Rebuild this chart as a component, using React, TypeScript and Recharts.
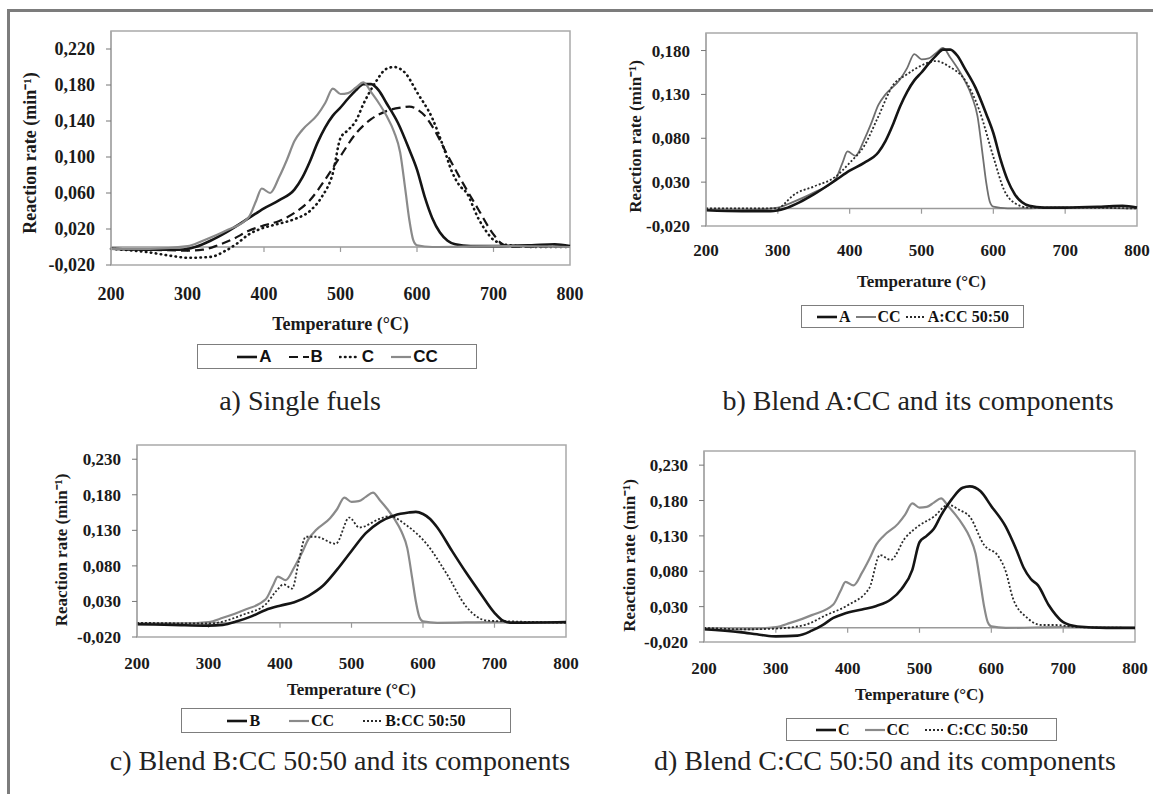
import React from 'react';
import { LineChart, Line, XAxis, YAxis, ReferenceLine, ReferenceArea } from 'recharts';

// ---------- data ----------
const temperatureTicks = [200, 300, 400, 500, 600, 700, 800];
const zeroLineTicks = [300, 400, 500, 600, 700];
const yTicksA = [-0.02, 0.02, 0.06, 0.1, 0.14, 0.18, 0.22];
const yTicksB = [-0.02, 0.03, 0.08, 0.13, 0.18];
const yTicksCD = [-0.02, 0.03, 0.08, 0.13, 0.18, 0.23];

const tA = [200, 250, 290, 310, 330, 350, 380, 400, 420, 440, 450, 460, 470, 480, 490, 500, 510, 520, 530, 540, 550, 560, 575, 590, 600, 610, 620, 630, 640, 650, 670, 700, 750, 780, 800];
const vA = [-0.002, -0.003, -0.003, 0.0, 0.007, 0.016, 0.032, 0.043, 0.052, 0.064, 0.077, 0.095, 0.116, 0.133, 0.146, 0.155, 0.165, 0.174, 0.181, 0.181, 0.174, 0.16, 0.138, 0.108, 0.086, 0.056, 0.032, 0.016, 0.007, 0.003, 0.001, 0.001, 0.002, 0.003, 0.001];

const tB = [200, 250, 300, 320, 340, 360, 380, 400, 420, 440, 460, 480, 500, 520, 540, 560, 580, 590, 600, 610, 620, 640, 660, 680, 700, 712, 725, 800];
const vB = [-0.002, -0.003, -0.004, -0.003, 0.002, 0.009, 0.018, 0.024, 0.029, 0.038, 0.052, 0.075, 0.101, 0.126, 0.142, 0.151, 0.155, 0.156, 0.153, 0.146, 0.134, 0.102, 0.071, 0.042, 0.014, 0.003, 0.0, 0.001];

const tC = [200, 250, 280, 300, 330, 350, 365, 380, 395, 420, 440, 460, 475, 490, 500, 510, 520, 530, 545, 560, 570, 585, 600, 620, 635, 645, 655, 665, 680, 690, 700, 720, 760, 800];
const vC = [-0.002, -0.006, -0.01, -0.012, -0.011, -0.004, 0.004, 0.014, 0.02, 0.026, 0.031, 0.04, 0.055, 0.082, 0.121, 0.13, 0.14, 0.159, 0.182, 0.198, 0.2, 0.193, 0.172, 0.143, 0.11, 0.085, 0.069, 0.06, 0.032, 0.018, 0.008, 0.002, 0.0, 0.0];

const tCC = [200, 250, 300, 320, 350, 380, 390, 397, 408, 420, 430, 440, 450, 470, 480, 490, 500, 510, 520, 530, 540, 550, 560, 570, 578, 585, 590, 595, 600, 620, 700, 800];
const vCC = [-0.002, -0.002, 0.001, 0.007, 0.018, 0.033, 0.052, 0.065, 0.06, 0.078, 0.097, 0.118, 0.13, 0.147, 0.16, 0.176, 0.17, 0.171, 0.177, 0.183, 0.172, 0.16, 0.146, 0.128, 0.105, 0.062, 0.03, 0.008, 0.002, 0.0, 0.001, 0.0];

const tACC = [200, 300, 310, 320, 350, 380, 400, 420, 440, 460, 480, 500, 520, 540, 560, 580, 600, 615, 630, 650, 700, 800];
const vACC = [0.0, 0.0, 0.006, 0.014, 0.025, 0.036, 0.052, 0.071, 0.105, 0.14, 0.153, 0.163, 0.168, 0.161, 0.147, 0.113, 0.059, 0.021, 0.006, 0.001, 0.001, 0.0];

const tBCC = [200, 300, 350, 380, 395, 405, 417, 426, 436, 450, 478, 497, 511, 539, 553, 577, 605, 633, 661, 690, 720, 800];
const vBCC = [0.0, -0.001, 0.012, 0.026, 0.045, 0.054, 0.048, 0.085, 0.121, 0.121, 0.111, 0.148, 0.134, 0.146, 0.15, 0.137, 0.111, 0.069, 0.022, 0.003, 0.002, 0.0];

const tCCC = [200, 260, 300, 340, 370, 400, 430, 445, 460, 480, 500, 520, 540, 555, 570, 590, 610, 620, 630, 650, 670, 690, 720, 800];
const vCCC = [0.0, -0.002, -0.001, 0.004, 0.018, 0.032, 0.056, 0.103, 0.096, 0.127, 0.145, 0.157, 0.174, 0.167, 0.157, 0.117, 0.101, 0.08, 0.042, 0.014, 0.004, 0.004, 0.001, 0.0];

// ---------- helpers ----------
const toPoints = (t: number[], v: number[]) => t.map((x, i) => ({ t: x, v: v[i] }));
const fmt = (v: number) => v.toFixed(3).replace('.', ',');

const SERIF = "'Liberation Serif', 'Times New Roman', serif";
const SANS = "'Liberation Sans', Arial, sans-serif";
const GRAY = '#8a8a8a';
const BLACK = '#151515';
const FRAME = '#a9a9a9';

type Style = { stroke: string; width: number; dash?: string; cap?: 'round' | 'butt' };
const sSolid: Style = { stroke: BLACK, width: 2.6 };
const sDash: Style = { stroke: BLACK, width: 2.2, dash: '9 5' };
const sDot: Style = { stroke: BLACK, width: 2.6, dash: '0.5 4.5', cap: 'round' };
const sGray: Style = { stroke: GRAY, width: 2.2 };
const sBlend: Style = { stroke: '#2a2a2a', width: 1.8, dash: '2 2' };

type Series = { name: string; t: number[]; v: number[]; style: Style };

type PanelProps = {
  left: number; top: number; width: number; height: number;
  marginTop: number; marginRight: number; yAxisWidth: number; xAxisHeight: number;
  yDomain: [number, number]; yTicks: number[]; series: Series[];
  fontSize: number; xTickMargin: number; xTitleOffset: number;
  yTitleOffset: number; yTitleDy: number; zeroTick: number;
};

function Panel(p: PanelProps) {
  const tickStyle = { fontSize: p.fontSize, fontWeight: 'bold' as const, fill: '#1a1a1a', fontFamily: SERIF };
  return (
    <div style={{ position: 'absolute', left: p.left, top: p.top, width: p.width, height: p.height }}>
      <LineChart width={p.width} height={p.height} margin={{ top: p.marginTop, right: p.marginRight, bottom: 0, left: 0 }}>
        <XAxis
          type="number" dataKey="t" domain={[200, 800]} ticks={temperatureTicks}
          axisLine={false} tickLine={false} tickMargin={p.xTickMargin} height={p.xAxisHeight}
          tick={tickStyle} interval={0}
          label={{ value: 'Temperature (°C)', position: 'insideBottom', offset: p.xTitleOffset,
            style: { fontSize: p.fontSize, fontWeight: 'bold', fill: '#1a1a1a', fontFamily: SERIF } }}
        />
        <YAxis
          type="number" domain={p.yDomain} ticks={p.yTicks} width={p.yAxisWidth} interval={0}
          axisLine={{ stroke: FRAME, strokeWidth: 1.5 }} tickLine={{ stroke: '#777' }} tickSize={5} tickMargin={11}
          tick={tickStyle} tickFormatter={fmt} allowDataOverflow
          label={{ value: 'Reaction rate (min⁻¹)', angle: -90, position: 'insideLeft', offset: p.yTitleOffset, dy: p.yTitleDy,
            style: { textAnchor: 'middle', fontSize: p.fontSize, fontWeight: 'bold', fill: '#1a1a1a', fontFamily: SERIF } }}
        />
        <ReferenceArea x1={200} x2={800} y1={p.yDomain[0]} y2={p.yDomain[1]} fill="none" stroke={FRAME} strokeWidth={1.5} />
        <ReferenceLine y={0} stroke="#9a9a9a" strokeWidth={1.5} />
        {zeroLineTicks.map((t) => (
          <ReferenceLine key={t} segment={[{ x: t, y: 0 }, { x: t, y: -p.zeroTick }]} stroke="#9a9a9a" strokeWidth={1.2} />
        ))}
        {p.series.map((s) => (
          <Line
            key={s.name} data={toPoints(s.t, s.v)} dataKey="v" type="monotone" dot={false}
            stroke={s.style.stroke} strokeWidth={s.style.width} strokeDasharray={s.style.dash}
            strokeLinecap={s.style.cap ?? 'butt'} isAnimationActive={false} activeDot={false}
          />
        ))}
      </LineChart>
    </div>
  );
}

type LegendProps = { left: number; top: number; width: number; height: number; items: Series[]; font: string; fontSize: number; gap: number };

function LegendBox(p: LegendProps) {
  return (
    <div style={{
      position: 'absolute', left: p.left, top: p.top, width: p.width, height: p.height, boxSizing: 'border-box',
      border: '1.5px solid #7d7d7d', background: '#fff', display: 'flex', alignItems: 'center', justifyContent: 'center',
      gap: p.gap, fontFamily: p.font, fontSize: p.fontSize, fontWeight: 'bold', color: '#111', whiteSpace: 'nowrap',
    }}>
      {p.items.map((s) => (
        <div key={s.name} style={{ display: 'flex', alignItems: 'center' }}>
          <svg width={22} height={10} style={{ marginRight: 1 }}>
            <line x1={1} y1={5} x2={21} y2={5} stroke={s.style.stroke} strokeWidth={s.style.width}
              strokeDasharray={s.style.dash} strokeLinecap={s.style.cap ?? 'butt'} />
          </svg>
          <span>{s.name}</span>
        </div>
      ))}
    </div>
  );
}

function Caption({ cx, top, text }: { cx: number; top: number; text: string }) {
  return (
    <div style={{ position: 'absolute', left: cx - 300, top, width: 600, textAlign: 'center', fontFamily: SERIF,
      fontSize: 28, lineHeight: '32px', color: '#222', whiteSpace: 'nowrap' }}>{text}</div>
  );
}

export default function App() {
  const A: Series = { name: 'A', t: tA, v: vA, style: sSolid };
  const Bs: Series = { name: 'B', t: tB, v: vB, style: sDash };
  const Cs: Series = { name: 'C', t: tC, v: vC, style: sDot };
  const CC: Series = { name: 'CC', t: tCC, v: vCC, style: sGray };
  const B2: Series = { name: 'B', t: tB, v: vB, style: sSolid };
  const C2: Series = { name: 'C', t: tC, v: vC, style: sSolid };
  const ACC: Series = { name: 'A:CC 50:50', t: tACC, v: vACC, style: sBlend };
  const BCC: Series = { name: 'B:CC 50:50', t: tBCC, v: vBCC, style: sBlend };
  const CCC: Series = { name: 'C:CC 50:50', t: tCCC, v: vCCC, style: sBlend };
  const CCthin: Series = { name: 'CC', t: tCC, v: vCC, style: { stroke: '#6f6f6f', width: 1.8 } };

  return (
    <div style={{ position: 'absolute', left: 0, top: 0, width: 1153, height: 794, background: '#fff', overflow: 'hidden' }}>
      <div style={{ position: 'absolute', left: 7, top: 9, width: 1146, height: 785, boxSizing: 'border-box',
        borderTop: '3px solid #7c7c7c', borderLeft: '3px solid #7c7c7c' }} />

      <Panel left={0} top={0} width={600} height={345} marginTop={31} marginRight={30} yAxisWidth={111} xAxisHeight={80}
        yDomain={[-0.02, 0.24]} yTicks={yTicksA} series={[A, Bs, Cs, CC]} fontSize={18}
        xTickMargin={16} xTitleOffset={15} yTitleOffset={30} yTitleDy={5} zeroTick={0.0055} />
      <Panel left={580} top={0} width={573} height={300} marginTop={33} marginRight={16} yAxisWidth={126} xAxisHeight={74}
        yDomain={[-0.02, 0.2]} yTicks={yTicksB} series={[CCthin, ACC, A]} fontSize={17}
        xTickMargin={12} xTitleOffset={13} yTitleOffset={55} yTitleDy={7} zeroTick={0.006} />
      <Panel left={0} top={400} width={600} height={300} marginTop={45} marginRight={34} yAxisWidth={137} xAxisHeight={63}
        yDomain={[-0.02, 0.25]} yTicks={yTicksCD} series={[CC, BCC, B2]} fontSize={17}
        xTickMargin={14} xTitleOffset={5} yTitleOffset={61} yTitleDy={9} zeroTick={0.007} />
      <Panel left={580} top={400} width={573} height={305} marginTop={51} marginRight={18} yAxisWidth={124} xAxisHeight={63}
        yDomain={[-0.02, 0.25]} yTicks={yTicksCD} series={[CC, CCC, C2]} fontSize={17}
        xTickMargin={14} xTitleOffset={5} yTitleOffset={49} yTitleDy={9} zeroTick={0.007} />

      <LegendBox left={197} top={344} width={280} height={25} items={[A, Bs, Cs, CC]} font={SANS} fontSize={17} gap={16} />
      <LegendBox left={801} top={305} width={223} height={23} items={[A, CCthin, ACC]} font={SERIF} fontSize={16} gap={4} />
      <LegendBox left={181} top={708} width={330} height={25} items={[B2, CC, BCC]} font={SERIF} fontSize={16} gap={28} />
      <LegendBox left={786} top={718} width={271} height={23} items={[C2, CC, CCC]} font={SERIF} fontSize={16} gap={14} />

      <Caption cx={300} top={385} text="a) Single fuels" />
      <Caption cx={918} top={385} text="b) Blend A:CC and its components" />
      <Caption cx={340} top={745} text="c) Blend B:CC 50:50 and its components" />
      <Caption cx={885} top={745} text="d) Blend C:CC 50:50 and its components" />
    </div>
  );
}
